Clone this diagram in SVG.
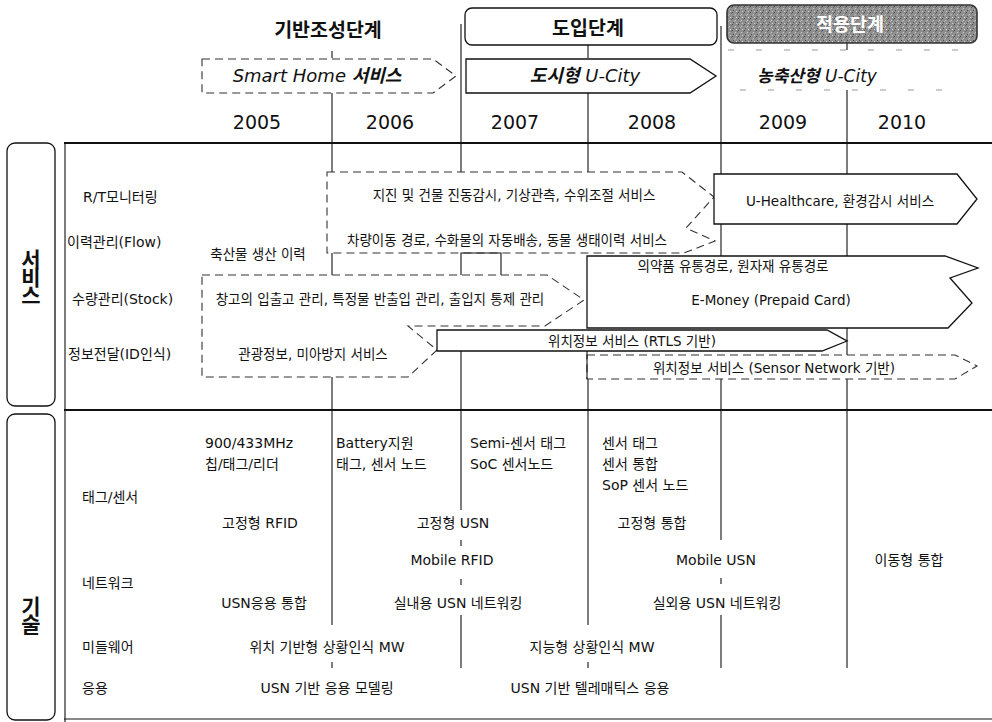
<svg xmlns="http://www.w3.org/2000/svg" width="992" height="722" viewBox="0 0 992 722">
<defs>
<pattern id="dither" width="6" height="6" patternUnits="userSpaceOnUse">
<rect width="6" height="6" fill="#8e8e8e"/>
<rect x="0" y="0" width="1" height="1" fill="#4a4a4a"/>
<rect x="3" y="2" width="1" height="1" fill="#c8c8c8"/>
<rect x="1" y="4" width="1" height="1" fill="#505050"/>
<rect x="4" y="5" width="1" height="1" fill="#d5d5d5"/>
<rect x="5" y="1" width="1" height="1" fill="#666"/>
<rect x="2" y="3" width="1" height="1" fill="#b0b0b0"/>
</pattern>
</defs>
<style>
text{font-family:"DejaVu Sans","Noto Sans CJK KR",sans-serif;fill:#111}
.ph{font-family:"Noto Sans CJK KR",sans-serif;font-weight:bold;font-size:19.5px}
.yr{font-size:19px}
.ar{font-size:18px;font-style:italic}
.sv{font-size:13.5px}
.rl{font-size:14px}
.tc{font-size:14px}
.m{text-anchor:middle}
.big{font-family:"Noto Sans CJK KR",sans-serif;font-weight:bold;font-size:21px;writing-mode:vertical-rl;letter-spacing:-3px}
.solid{fill:#fff;stroke:#111;stroke-width:1.3}
.dash{fill:none;stroke:#333;stroke-width:1.1;stroke-dasharray:8 5}
.ln{stroke:#111;stroke-width:1.1;fill:none}
.frame{stroke:#111;stroke-width:1.8;fill:none}
.faint{stroke:#999;stroke-width:1;stroke-dasharray:6 22;fill:none}
</style>
<rect width="992" height="722" fill="#fff"/>

<g id="connectors">
<line class="frame" x1="64" y1="143" x2="992" y2="143"/>
<line class="frame" x1="64" y1="410" x2="992" y2="410"/>
<line class="ln" x1="64" y1="719" x2="992" y2="719"/>
<line class="ln" x1="65" y1="143" x2="65" y2="722"/>
<line class="ln" x1="332" y1="51" x2="332" y2="58"/>
<line class="ln" x1="332" y1="93" x2="332" y2="143"/>
<line class="ln" x1="461" y1="24" x2="461" y2="143"/>
<line class="ln" x1="588" y1="45" x2="588" y2="58"/>
<line class="ln" x1="588" y1="93" x2="588" y2="143"/>
<line class="ln" x1="721" y1="26" x2="721" y2="143"/>
<line class="ln" x1="847" y1="43" x2="847" y2="50"/>
<line class="ln" x1="847" y1="90" x2="847" y2="143"/>
<line class="faint" x1="728" y1="50" x2="975" y2="50"/>
<line class="faint" x1="740" y1="90" x2="960" y2="90"/>
<line class="ln" x1="332" y1="143" x2="332" y2="172"/>
<line class="ln" x1="461" y1="143" x2="461" y2="172"/>
<line class="ln" x1="588" y1="143" x2="588" y2="172"/>
<line class="ln" x1="721" y1="143" x2="721" y2="174"/>
<line class="ln" x1="847" y1="143" x2="847" y2="174"/>
<line class="ln" x1="721" y1="224" x2="721" y2="256"/>
<line class="ln" x1="847" y1="224" x2="847" y2="256"/>
<line class="ln" x1="332" y1="253" x2="332" y2="275"/>
<path class="ln" d="M461,275 V253 H501 V275"/>
<line class="ln" x1="847" y1="328" x2="847" y2="355"/>
<line class="ln" x1="332" y1="377" x2="332" y2="410"/>
<line class="ln" x1="461" y1="350" x2="461" y2="410"/>
<line class="ln" x1="588" y1="379" x2="588" y2="410"/>
<line class="ln" x1="721" y1="379" x2="721" y2="410"/>
<line class="ln" x1="847" y1="379" x2="847" y2="410"/>
<line class="ln" x1="332" y1="410" x2="332" y2="625"/>
<line class="ln" x1="332" y1="662" x2="332" y2="668"/>
<line class="ln" x1="461" y1="410" x2="461" y2="510"/>
<line class="ln" x1="461" y1="540" x2="461" y2="546"/>
<line class="ln" x1="461" y1="579" x2="461" y2="585"/>
<line class="ln" x1="461" y1="615" x2="461" y2="668"/>
<line class="ln" x1="588" y1="410" x2="588" y2="625"/>
<line class="ln" x1="588" y1="662" x2="588" y2="668"/>
<line class="ln" x1="721" y1="410" x2="721" y2="540"/>
<line class="ln" x1="721" y1="578" x2="721" y2="584"/>
<line class="ln" x1="721" y1="615" x2="721" y2="668"/>
<line class="ln" x1="847" y1="410" x2="847" y2="668"/>
</g>

<g id="side-service">
<rect class="solid" x="7" y="143" width="48" height="263" rx="8"/>
<text class="big" x="31" y="249">서비스</text>
</g>
<g id="side-tech">
<rect class="solid" x="7" y="414" width="48" height="306" rx="8"/>
<text class="big" x="31" y="596">기술</text>
</g>

<g id="phase-1"><text class="ph m" x="328" y="37">기반조성단계</text></g>
<g id="phase-2">
<rect class="solid" x="465" y="8" width="252" height="37" rx="7"/>
<text class="ph m" x="588" y="35">도입단계</text>
</g>
<g id="phase-3">
<rect x="727" y="5" width="250" height="38" rx="7" fill="url(#dither)" stroke="#333" stroke-width="1.6"/>
<text class="ph m" x="850" y="31" style="fill:#fff;font-size:18.5px">적용단계</text>
</g>

<g id="arrow-smarthome">
<path class="dash" d="M202,59 H433 L456,76 L433,93 H202 Z"/>
<text class="ar m" x="317" y="82">Smart Home <tspan font-weight="bold">서비스</tspan></text>
</g>
<g id="arrow-urban">
<path class="solid" d="M466,59 H690 L716,76 L690,93 H466 Z"/>
<text class="ar m" x="585" y="82"><tspan font-weight="bold">도시형</tspan> U-City</text>
</g>
<g id="arrow-rural">
<text class="ar m" x="817" y="82" style="font-size:17px"><tspan font-weight="bold">농축산형</tspan> U-City</text>
</g>

<g id="years">
<text class="yr m" x="257" y="129">2005</text>
<text class="yr m" x="390" y="129">2006</text>
<text class="yr m" x="515" y="129">2007</text>
<text class="yr m" x="652" y="129">2008</text>
<text class="yr m" x="783" y="129">2009</text>
<text class="yr m" x="902" y="129">2010</text>
</g>

<g id="row-labels">
<text class="rl" x="83" y="202">R/T모니터링</text>
<text class="rl" x="67" y="247">이력관리(Flow)</text>
<text class="rl" x="72" y="304">수량관리(Stock)</text>
<text class="rl" x="68" y="359">정보전달(ID인식)</text>
<text class="rl" x="82" y="502">태그/센서</text>
<text class="rl" x="82" y="588">네트워크</text>
<text class="rl" x="82" y="652">미들웨어</text>
<text class="rl" x="82" y="693">응용</text>
</g>

<g id="svc-monitoring-flow">
<path class="dash" d="M327,172 H682 L714,197 L686,228 L715,241 L684,253 H327 Z"/>
<text class="sv m" x="514" y="200">지진 및 건물 진동감시, 기상관측, 수위조절 서비스</text>
<text class="sv m" x="507" y="245">차량이동 경로, 수화물의 자동배송, 동물 생태이력 서비스</text>
</g>
<g id="svc-healthcare">
<path class="solid" d="M714,174 H957 L977,199 L957,224 H714 Z"/>
<text class="sv m" x="840" y="206">U-Healthcare, 환경감시 서비스</text>
</g>
<g id="svc-livestock"><text class="sv m" x="258" y="259">축산물 생산 이력</text></g>
<g id="svc-emoney">
<path class="solid" d="M587,328 V256 H945 L978,268 L950,278 L972,303 L948,328 Z"/>
<text class="sv m" x="733" y="271">의약품 유통경로, 원자재 유통경로</text>
<text class="sv m" x="771" y="305">E-Money (Prepaid Card)</text>
</g>
<g id="svc-stock-id">
<path class="dash" d="M202,275 H547 L584,300 L545,326 H408 L437,350 L408,377 H202 Z"/>
<text class="sv m" x="380" y="304">창고의 입출고 관리, 특정물 반출입 관리, 출입지 통제 관리</text>
<text class="sv m" x="313" y="359">관광정보, 미아방지 서비스</text>
</g>
<g id="svc-rtls">
<path class="solid" d="M437,330 H827 L847,341 L822,351 H437 Z"/>
<text class="sv m" x="632" y="346">위치정보 서비스 (RTLS 기반)</text>
</g>
<g id="svc-sensor">
<path class="dash" d="M587,355 H955 L977,366 L955,379 H587 Z"/>
<line class="ln" x1="587" y1="351" x2="587" y2="379"/>
<text class="sv m" x="774" y="373">위치정보 서비스 (Sensor Network 기반)</text>
</g>

<g id="tech-tag">
<text class="tc" x="205" y="448">900/433MHz</text>
<text class="tc" x="205" y="469">칩/태그/리더</text>
<text class="tc" x="336" y="448">Battery지원</text>
<text class="tc" x="336" y="469">태그, 센서 노드</text>
<text class="tc" x="470" y="448">Semi-센서 태그</text>
<text class="tc" x="470" y="469">SoC 센서노드</text>
<text class="tc" x="602" y="448">센서 태그</text>
<text class="tc" x="602" y="469">센서 통합</text>
<text class="tc" x="602" y="490">SoP 센서 노드</text>
</g>
<g id="tech-network">
<text class="tc m" x="260" y="528">고정형 RFID</text>
<text class="tc m" x="453" y="528">고정형 USN</text>
<text class="tc m" x="652" y="528">고정형 통합</text>
<text class="tc m" x="452" y="565">Mobile RFID</text>
<text class="tc m" x="716" y="565">Mobile USN</text>
<text class="tc m" x="909" y="565">이동형 통합</text>
<text class="tc m" x="264" y="608">USN응용 통합</text>
<text class="tc m" x="458" y="608">실내용 USN 네트워킹</text>
<text class="tc m" x="717" y="608">실외용 USN 네트워킹</text>
</g>
<g id="tech-middleware">
<text class="tc m" x="327" y="652">위치 기반형 상황인식 MW</text>
<text class="tc m" x="592" y="652">지능형 상황인식 MW</text>
</g>
<g id="tech-app">
<text class="tc m" x="327" y="693">USN 기반 응용 모델링</text>
<text class="tc m" x="590" y="693">USN 기반 텔레매틱스 응용</text>
</g>
</svg>
